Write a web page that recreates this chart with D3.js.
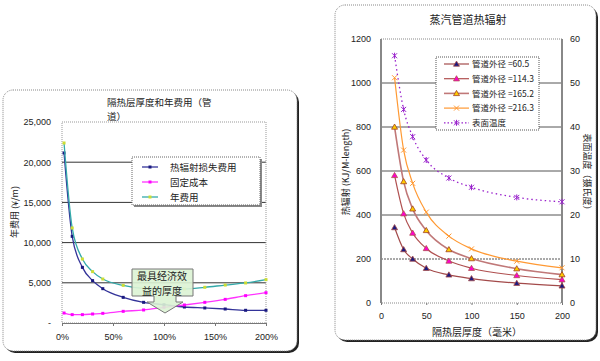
<!DOCTYPE html>
<meta charset="utf-8">
<style>
body { margin: 0; background: #fff; }
svg text { font-family: "Liberation Sans", "Noto Sans CJK SC", sans-serif; fill: #222; }
.cjk { font-family: "Noto Sans CJK SC", sans-serif; }
.tick { font-size: 9px; }
</style>
<body>
<script src="https://cdn.jsdelivr.net/npm/d3@7"></script>
<script>
// ---- left chart data ----
var costX = [2, 10, 20, 30, 40, 60, 80, 100, 120, 140, 160, 180, 200];
var lossCost = [21150, 10780, 6920, 5270, 4270, 3190, 2570, 2280, 1990, 1870, 1740, 1580, 1580];
var fixedCost = [1240, 1040, 1040, 1120, 1200, 1450, 1620, 1950, 2240, 2570, 2940, 3400, 3770];
var yearCost = [22390, 11820, 7960, 6390, 5470, 4680, 4300, 4230, 4230, 4440, 4720, 4980, 5390];
var costNames = ["热辐射损失费用", "固定成本", "年费用"];
var costTicksY = [0, 5000, 10000, 15000, 20000, 25000];
var costTicksX = [0, 50, 100, 150, 200];

// ---- right chart data ----
var thick = [15, 25, 35, 50, 75, 100, 150, 200];
var d605 = [343, 243, 200, 158, 128, 111, 90, 78];
var d1143 = [580, 406, 318, 248, 191, 158, 125, 106];
var d1652 = [800, 552, 428, 330, 243, 202, 156, 129];
var d2163 = [1024, 695, 544, 413, 304, 246, 190, 160];
var surfTemp = [56.2, 44.0, 37.8, 32.5, 28.4, 26.3, 24.0, 23.0];
var radNames = ["管道外径 =60.5", "管道外径 =114.3", "管道外径 =165.2", "管道外径 =216.3", "表面温度"];
var radTicksL = [0, 200, 400, 600, 800, 1000, 1200];
var radTicksR = [0, 10, 20, 30, 40, 50, 60];
var radTicksX = [0, 50, 100, 150, 200];

var svg = d3.select("body").append("svg")
    .attr("width", 600)
    .attr("height", 361);

// panel frames
function panel(x0, y0, x1, y1) {
  svg.append("rect")
      .attr("x", x0 + 2).attr("y", y0 + 2)
      .attr("width", x1 - x0).attr("height", y1 - y0)
      .attr("rx", 10)
      .style("fill", "#222");
  svg.append("rect")
      .attr("x", x0).attr("y", y0)
      .attr("width", x1 - x0).attr("height", y1 - y0)
      .attr("rx", 10)
      .style("fill", "#fff")
      .style("stroke", "#888")
      .style("stroke-dasharray", "1,1");
}
panel(3, 90, 297, 351);
panel(335, 5, 596, 340);

// ================= left chart =================
var x1 = d3.scaleLinear().domain([0, 200]).range([62, 266]);
var y1 = d3.scaleLinear().domain([0, 25000]).range([323, 122]);

var g1 = svg.append("g");

g1.selectAll(".grid1")
    .data(costTicksY.filter(function(d) { return d > 0 && d < 25000; }))
  .enter().append("line")
    .attr("x1", x1(0)).attr("x2", x1(200))
    .attr("y1", function(d) { return y1(d); })
    .attr("y2", function(d) { return y1(d); })
    .style("stroke", "#333").style("stroke-width", 1);

g1.append("rect")
    .attr("x", x1(0)).attr("y", y1(25000))
    .attr("width", x1(200) - x1(0)).attr("height", y1(0) - y1(25000))
    .style("fill", "none").style("stroke", "#999").style("stroke-dasharray", "1,1");

g1.append("g")
    .attr("class", "tick")
    .attr("transform", "translate(" + (x1(0) - 8) + ",0)")
    .call(d3.axisLeft(y1).tickValues(costTicksY).tickSize(0)
      .tickFormat(function(d) { return d === 0 ? "-" : d3.format(",")(d); }))
    .call(function(g) { g.select(".domain").remove(); });

g1.append("g")
    .attr("class", "tick")
    .attr("transform", "translate(0," + y1(0) + ")")
    .call(d3.axisBottom(x1).tickValues(costTicksX).tickSize(3).tickPadding(8)
      .tickFormat(function(d) { return d + "%"; }))
    .call(function(g) {
      g.select(".domain").style("stroke", "#777");
      g.selectAll("line").style("stroke", "#777");
    });

var costSeries = [
  {name: costNames[0], vals: lossCost, line: "#333399", mark: "#1a1a80"},
  {name: costNames[1], vals: fixedCost, line: "#ff33ff", mark: "#ff00ff"},
  {name: costNames[2], vals: yearCost, line: "#33aaaa", mark: "#ccdd33"}
];

var line1 = d3.line()
    .x(function(d) { return x1(d[0]); })
    .y(function(d) { return y1(d[1]); })
    .curve(d3.curveMonotoneX);

costSeries.forEach(function(s) {
  var pts = costX.map(function(x, i) { return [x, s.vals[i]]; });
  g1.append("path").datum(pts)
      .attr("d", line1)
      .style("fill", "none").style("stroke", s.line).style("stroke-width", 1.3);
  g1.selectAll(null).data(pts).enter().append("rect")
      .attr("x", function(d) { return x1(d[0]) - 1.5; })
      .attr("y", function(d) { return y1(d[1]) - 1.5; })
      .attr("width", 3).attr("height", 3)
      .style("fill", s.mark);
});

// title (wrapped in two lines like the original)
g1.append("text").attr("class", "cjk")
    .attr("x", 107).attr("y", 106)
    .style("font-size", "9.5px")
    .text("隔热层厚度和年费用（管");
g1.append("text").attr("class", "cjk")
    .attr("x", 107).attr("y", 120)
    .style("font-size", "9.5px")
    .text("道）");

g1.append("text").attr("class", "cjk")
    .attr("transform", "translate(18,212) rotate(-90)")
    .style("text-anchor", "middle")
    .style("font-size", "9px")
    .text("年费用 (¥/m)");

// legend
var lg1 = g1.append("g");
lg1.append("rect")
    .attr("x", 134).attr("y", 159).attr("width", 128).attr("height", 48)
    .style("fill", "#888");
lg1.append("rect")
    .attr("x", 132).attr("y", 157).attr("width", 128).attr("height", 48)
    .style("fill", "#fff").style("stroke", "#666").style("stroke-dasharray", "1,1");
costSeries.forEach(function(s, i) {
  var yy = 167 + i * 15;
  lg1.append("line")
      .attr("x1", 142).attr("x2", 158).attr("y1", yy).attr("y2", yy)
      .style("stroke", s.line).style("stroke-width", 1.3);
  lg1.append("rect")
      .attr("x", 148.5).attr("y", yy - 1.5).attr("width", 3).attr("height", 3)
      .style("fill", s.mark);
  lg1.append("text").attr("class", "cjk")
      .attr("x", 170).attr("y", yy + 3.5)
      .style("font-size", "9.5px")
      .text(s.name);
});

// callout
var callout = [[132, 269], [193, 269], [193, 296], [176, 296], [176, 302], [183, 302],
               [165, 313], [147, 302], [154, 302], [154, 296], [132, 296]];
g1.append("path")
    .attr("d", d3.line()(callout) + "Z")
    .style("fill", "#dcf3d4").style("fill-opacity", 0.9)
    .style("stroke", "#777").style("stroke-width", 1);
g1.append("text").attr("class", "cjk")
    .attr("x", 162).attr("y", 280)
    .style("text-anchor", "middle").style("font-size", "10px")
    .text("最具经济效");
g1.append("text").attr("class", "cjk")
    .attr("x", 162).attr("y", 294.5)
    .style("text-anchor", "middle").style("font-size", "10px")
    .text("益的厚度");

// ================= right chart =================
var x2 = d3.scaleLinear().domain([0, 200]).range([381, 562]);
var y2 = d3.scaleLinear().domain([0, 1200]).range([303, 39]);
var y2r = d3.scaleLinear().domain([0, 60]).range([303, 39]);

var g2 = svg.append("g");

g2.selectAll(".grid2")
    .data(radTicksL.filter(function(d) { return d > 0 && d < 1200; }))
  .enter().append("line")
    .attr("x1", x2(0)).attr("x2", x2(200))
    .attr("y1", function(d) { return y2(d); })
    .attr("y2", function(d) { return y2(d); })
    .style("stroke", "#555").style("stroke-width", 1)
    .style("stroke-dasharray", function(d) { return d === 200 ? "2,1" : null; });

g2.append("rect")
    .attr("x", x2(0)).attr("y", y2(1200))
    .attr("width", x2(200) - x2(0)).attr("height", y2(0) - y2(1200))
    .style("fill", "none").style("stroke", "#888").style("stroke-dasharray", "1,1");
[x2(0), x2(200)].forEach(function(xx) {
  g2.append("line")
      .attr("x1", xx).attr("x2", xx).attr("y1", y2(1200)).attr("y2", y2(0))
      .style("stroke", "#888").style("stroke-width", 2);
});

g2.append("g")
    .attr("class", "tick")
    .attr("transform", "translate(" + (x2(0) - 7) + ",0)")
    .call(d3.axisLeft(y2).tickValues(radTicksL).tickSize(0).tickFormat(d3.format("d")))
    .call(function(g) { g.select(".domain").remove(); });

g2.append("g")
    .attr("class", "tick")
    .attr("transform", "translate(" + (x2(200) + 5) + ",0)")
    .call(d3.axisRight(y2r).tickValues(radTicksR).tickSize(0))
    .call(function(g) { g.select(".domain").remove(); });

g2.append("g")
    .attr("class", "tick")
    .attr("transform", "translate(0," + y2(0) + ")")
    .call(d3.axisBottom(x2).tickValues(radTicksX).tickSize(2).tickPadding(8))
    .call(function(g) {
      g.select(".domain").remove();
      g.selectAll("line").style("stroke", "#777");
    });

var radSeries = [
  {vals: d605, line: "#a34a4a", w: 1.2, mark: "tri", fill: "#1a1a80", stroke: "#a34a4a"},
  {vals: d1143, line: "#b05050", w: 1.2, mark: "tri", fill: "#ff00cc", stroke: "#b05050"},
  {vals: d1652, line: "#c07878", w: 1.6, mark: "tri", fill: "#ffcc00", stroke: "#a04020"},
  {vals: d2163, line: "#ff9933", w: 1.2, mark: "x", fill: "none", stroke: "#ff9933"}
];

var line2 = d3.line()
    .x(function(d) { return x2(d[0]); })
    .y(function(d) { return d[1]; })
    .curve(d3.curveMonotoneX);

function drawMark(g, kind, cx, cy, fill, stroke) {
  if (kind === "tri") {
    g.append("path")
        .attr("d", "M" + cx + "," + (cy - 3) + "L" + (cx + 3) + "," + (cy + 2.2) + "L" + (cx - 3) + "," + (cy + 2.2) + "Z")
        .style("fill", fill).style("stroke", stroke).style("stroke-width", 0.8);
  } else if (kind === "x") {
    g.append("path")
        .attr("d", "M" + (cx - 2.5) + "," + (cy - 2.5) + "L" + (cx + 2.5) + "," + (cy + 2.5) +
                   "M" + (cx + 2.5) + "," + (cy - 2.5) + "L" + (cx - 2.5) + "," + (cy + 2.5))
        .style("stroke", stroke).style("stroke-width", 1);
  } else {
    g.append("path")
        .attr("d", "M" + (cx - 2.5) + "," + (cy - 2.5) + "L" + (cx + 2.5) + "," + (cy + 2.5) +
                   "M" + (cx + 2.5) + "," + (cy - 2.5) + "L" + (cx - 2.5) + "," + (cy + 2.5) +
                   "M" + cx + "," + (cy - 3) + "L" + cx + "," + (cy + 3))
        .style("stroke", stroke).style("stroke-width", 1);
  }
}

radSeries.forEach(function(s) {
  var pts = thick.map(function(x, i) { return [x, y2(s.vals[i])]; });
  g2.append("path").datum(pts)
      .attr("d", line2)
      .style("fill", "none").style("stroke", s.line).style("stroke-width", s.w);
  pts.forEach(function(p) { drawMark(g2, s.mark, x2(p[0]), p[1], s.fill, s.stroke); });
});

var tempPts = thick.map(function(x, i) { return [x, y2r(surfTemp[i])]; });
g2.append("path").datum(tempPts)
    .attr("d", line2)
    .style("fill", "none").style("stroke", "#9922cc").style("stroke-width", 1.3)
    .style("stroke-dasharray", "1.5,3");
tempPts.forEach(function(p) { drawMark(g2, "star", x2(p[0]), p[1], "none", "#9922cc"); });

// titles
g2.append("text").attr("class", "cjk")
    .attr("x", 468).attr("y", 24)
    .style("text-anchor", "middle").style("font-size", "11px")
    .text("蒸汽管道热辐射");
g2.append("text").attr("class", "cjk")
    .attr("x", 477).attr("y", 336)
    .style("text-anchor", "middle").style("font-size", "10px")
    .text("隔热层厚度（毫米）");
g2.append("text").attr("class", "cjk")
    .attr("transform", "translate(349,172) rotate(-90)")
    .style("text-anchor", "middle").style("font-size", "9px")
    .text("热辐射 (KJ/M-length)");
g2.append("text").attr("class", "cjk")
    .attr("transform", "translate(584,174) rotate(90)")
    .style("text-anchor", "middle").style("font-size", "9px")
    .text("表面温度（摄氏度）");

// legend
var lg2 = g2.append("g");
lg2.append("rect")
    .attr("x", 436).attr("y", 57).attr("width", 103).attr("height", 73)
    .style("fill", "#fff").style("stroke", "#555").style("stroke-dasharray", "1,1");
var legSpec = radSeries.map(function(s) { return s; }).concat([
  {line: "#9922cc", w: 1.3, mark: "star", fill: "none", stroke: "#9922cc", dash: "1.5,2"}
]);
legSpec.forEach(function(s, i) {
  var yy = 64 + i * 14.7;
  lg2.append("line")
      .attr("x1", 444).attr("x2", 469).attr("y1", yy).attr("y2", yy)
      .style("stroke", s.line).style("stroke-width", s.w)
      .style("stroke-dasharray", s.dash || null);
  drawMark(lg2, s.mark, 456.5, yy, s.fill, s.stroke);
  lg2.append("text").attr("class", "cjk")
      .attr("x", 472).attr("y", yy + 3.2)
      .style("font-size", "8.5px")
      .text(radNames[i]);
});
</script>
</body>
</html>
